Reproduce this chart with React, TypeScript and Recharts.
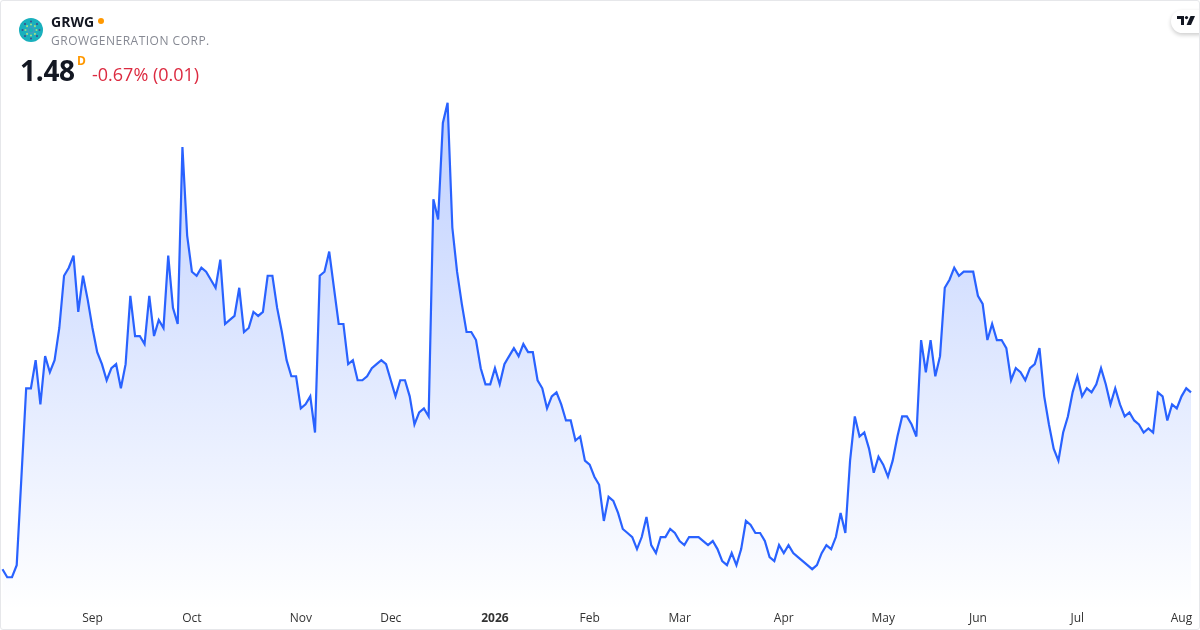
import { AreaChart, Area, XAxis, YAxis } from "recharts";

// daily closes (USD)
const closes = [
  1.04, 1.02, 1.02, 1.05, 1.27, 1.49, 1.49, 1.56, 1.45, 1.57, 1.53, 1.56, 1.64, 1.77, 1.79, 1.82,
  1.68, 1.77, 1.71, 1.64, 1.58, 1.55, 1.51, 1.54, 1.55, 1.49, 1.55, 1.72, 1.62, 1.62, 1.6, 1.72,
  1.62, 1.66, 1.64, 1.82, 1.69, 1.65, 2.09, 1.87, 1.78, 1.77, 1.79, 1.78, 1.76, 1.74, 1.81, 1.65,
  1.66, 1.67, 1.74, 1.63, 1.64, 1.68, 1.67, 1.68, 1.77, 1.77, 1.69, 1.63, 1.56, 1.52, 1.52, 1.44,
  1.45, 1.47, 1.38, 1.77, 1.78, 1.83, 1.74, 1.65, 1.65, 1.55, 1.56, 1.51, 1.51, 1.52, 1.54, 1.55,
  1.56, 1.55, 1.51, 1.47, 1.51, 1.51, 1.47, 1.4, 1.43, 1.44, 1.42, 1.96, 1.91, 2.15, 2.2, 1.89,
  1.78, 1.7, 1.63, 1.63, 1.61, 1.54, 1.5, 1.5, 1.54, 1.5, 1.55, 1.57, 1.59, 1.57, 1.6, 1.58,
  1.58, 1.51, 1.49, 1.44, 1.47, 1.48, 1.45, 1.41, 1.41, 1.36, 1.37, 1.31, 1.3, 1.27, 1.25, 1.16,
  1.22, 1.21, 1.18, 1.14, 1.13, 1.12, 1.09, 1.12, 1.17, 1.1, 1.08, 1.12, 1.12, 1.14, 1.13, 1.11,
  1.1, 1.12, 1.12, 1.12, 1.11, 1.1, 1.11, 1.09, 1.06, 1.05, 1.08, 1.05, 1.09, 1.16, 1.15, 1.13,
  1.13, 1.11, 1.07, 1.06, 1.1, 1.08, 1.1, 1.08, 1.07, 1.06, 1.05, 1.04, 1.05, 1.08, 1.1, 1.09,
  1.12, 1.18, 1.13, 1.31, 1.42, 1.37, 1.38, 1.34, 1.28, 1.32, 1.3, 1.27, 1.31, 1.37, 1.42, 1.42,
  1.4, 1.37, 1.61, 1.53, 1.61, 1.52, 1.57, 1.74, 1.76, 1.79, 1.77, 1.78, 1.78, 1.78, 1.72, 1.7,
  1.61, 1.65, 1.61, 1.61, 1.59, 1.51, 1.54, 1.53, 1.51, 1.54, 1.55, 1.59, 1.47, 1.4, 1.34, 1.31,
  1.38, 1.42, 1.48, 1.52, 1.47, 1.49, 1.48, 1.5, 1.54, 1.5, 1.45, 1.49, 1.45, 1.42, 1.43, 1.41,
  1.4, 1.38, 1.39, 1.38, 1.48, 1.47, 1.41, 1.45, 1.44, 1.47, 1.49, 1.48,
];

// trading-day position of the first session of each month
const tickDays = [19, 40, 63, 82, 104, 124, 143, 165, 186, 206, 227, 249];
const tickLabels = ["Sep", "Oct", "Nov", "Dec", "2026", "Feb", "Mar", "Apr", "May", "Jun", "Jul", "Aug"];

const data = closes.map((close, day) => ({ day, close }));

const FONT = '"Open Sans", sans-serif';

function MonthTick({ x, payload }: any) {
  const label = tickLabels[tickDays.indexOf(payload.value)];
  return (
    <text
      x={x}
      y={622}
      textAnchor="middle"
      fontFamily={FONT}
      fontSize={12}
      fontWeight={label === "2026" ? 700 : 400}
      fill="#333"
    >
      {label}
    </text>
  );
}

function Logo() {
  const spokes = [0, 45, 90, 135, 180, 225, 270, 315];
  return (
    <svg width={24} height={24} style={{ position: "absolute", left: 19, top: 18 }}>
      <circle cx={12} cy={12} r={12} fill="#19b0bd" />
      <circle cx={12} cy={12} r={3} fill="none" stroke="#3d9fc0" strokeWidth={1.5} />
      {spokes.map((a) => (
        <g key={a} transform={`rotate(${a} 12 12)`}>
          <circle cx={12} cy={6.5} r={1.1} fill="#9ad98a" />
          <circle cx={12} cy={3.5} r={1} fill="#3f4a8c" />
        </g>
      ))}
    </svg>
  );
}

export default function App() {
  return (
    <div
      style={{
        position: "fixed",
        left: 0,
        top: 0,
        width: 1200,
        height: 630,
        boxSizing: "border-box",
        border: "1px solid #e6e7ea",
        borderRadius: 3,
        background: "#fff",
        overflow: "hidden",
        fontFamily: FONT,
      }}
    >
      <div style={{ position: "absolute", left: -1, top: -1 }}>
        <AreaChart
          width={1200}
          height={630}
          data={data}
          margin={{ top: 80, right: 9, bottom: 0, left: 2.5 }}
        >
          <defs>
            <linearGradient id="areaFill" x1="0" y1="0" x2="0" y2="1">
              <stop offset="0%" stopColor="#2962ff" stopOpacity={0.3} />
              <stop offset="100%" stopColor="#2962ff" stopOpacity={0} />
            </linearGradient>
          </defs>
          <XAxis
            dataKey="day"
            type="number"
            domain={[0, 251]}
            ticks={tickDays}
            interval={0}
            height={20}
            axisLine={false}
            tickLine={false}
            tick={<MonthTick />}
          />
          <YAxis hide type="number" domain={[0.9385, 2.2569]} />
          <Area
            type="linear"
            dataKey="close"
            stroke="#2962ff"
            strokeWidth={2.2}
            fill="url(#areaFill)"
            fillOpacity={1}
            dot={false}
            activeDot={false}
            isAnimationActive={false}
          />
        </AreaChart>
      </div>

      <div style={{ position: "absolute", left: -1, top: -1, width: 1200, height: 100 }}>
        <Logo />
        <div style={{ position: "absolute", left: 51, top: 12, fontSize: 14, fontWeight: 700, color: "#131722", lineHeight: "19px" }}>
          GRWG
        </div>
        <div style={{ position: "absolute", left: 98, top: 18, width: 6, height: 6, borderRadius: 3, background: "#ff9800" }} />
        <div style={{ position: "absolute", left: 51, top: 32, fontSize: 12, letterSpacing: 0.5, color: "#868993", lineHeight: "17px", whiteSpace: "nowrap" }}>
          GROWGENERATION CORP.
        </div>
        <div style={{ position: "absolute", left: 20, top: 51, fontSize: 28, fontWeight: 700, color: "#131722", lineHeight: "38px", letterSpacing: -0.3 }}>
          1.48
        </div>
        <div style={{ position: "absolute", left: 77, top: 53, fontSize: 12, fontWeight: 700, color: "#ff9800", lineHeight: "16px" }}>
          D
        </div>
        <div style={{ position: "absolute", left: 92, top: 62, fontSize: 18, color: "#dc2a40", lineHeight: "24px", whiteSpace: "nowrap" }}>
          -0.67% (0.01)
        </div>
        <div
          style={{
            position: "absolute",
            left: 1171,
            top: 10,
            width: 40,
            height: 23,
            borderRadius: 12,
            background: "#fff",
            boxShadow: "0 2px 4px rgba(0,0,0,0.2)",
          }}
        />
        <svg width={18} height={10} viewBox="0 0 18 10" style={{ position: "absolute", left: 1177, top: 16 }}>
          <path d="M0 0h7v9H4V3H0z" fill="#131722" />
          <circle cx={9.5} cy={1.6} r={1.6} fill="#131722" />
          <path d="M13.5 0H18l-4 9H9.6z" fill="#131722" />
        </svg>
      </div>
    </div>
  );
}
